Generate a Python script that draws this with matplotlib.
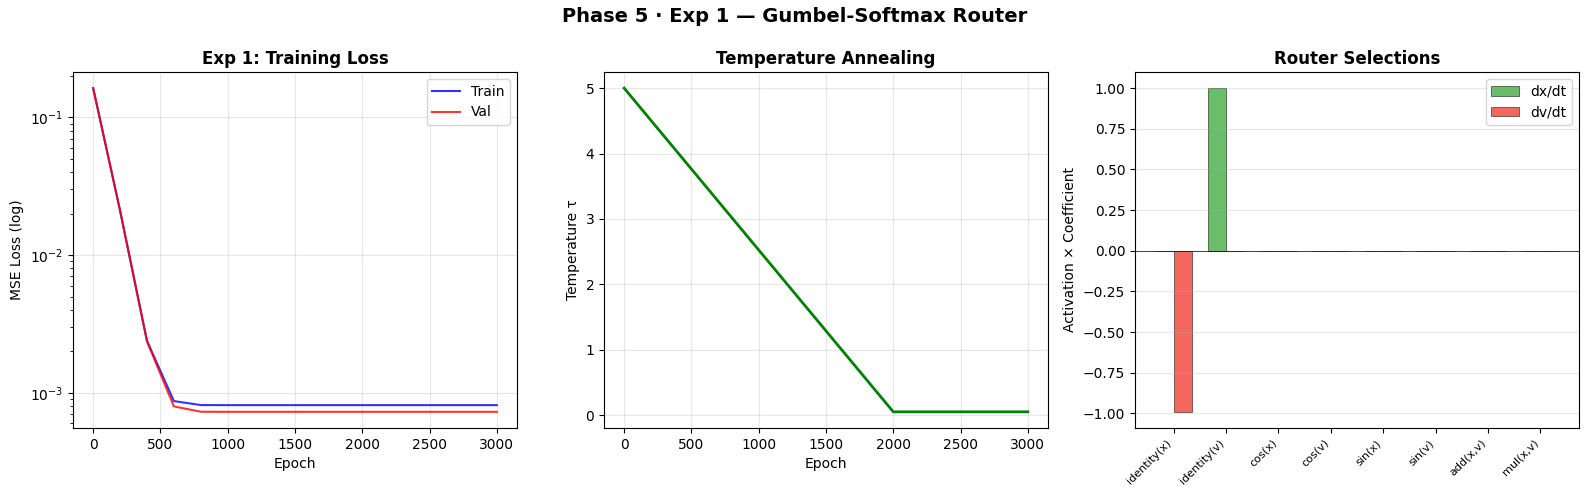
import numpy as np
import matplotlib
matplotlib.use("Agg")
import matplotlib.pyplot as plt

# training loss, logged every 200 epochs
epochs = [0, 200, 400, 600, 800, 1000, 1200, 1400, 1600, 1800, 2000,
          2200, 2400, 2600, 2800, 3000]
train_loss = [0.163, 0.021, 0.00238, 0.00087, 0.000814, 0.000813, 0.000813,
              0.000813, 0.000813, 0.000813, 0.000813, 0.000813, 0.000813,
              0.000813, 0.000813, 0.000813]
val_loss = [0.163, 0.021, 0.00236, 0.000796, 0.000728, 0.000727, 0.000727,
            0.000727, 0.000727, 0.000727, 0.000727, 0.000727, 0.000727,
            0.000727, 0.000727, 0.000727]

# temperature schedule
tau_epochs = [0, 2000, 3000]
tau = [5.0, 0.05, 0.05]

# router selections
ops = ["identity(x)", "identity(v)", "cos(x)", "cos(v)", "sin(x)", "sin(v)",
       "add(x,v)", "mul(x,v)"]
dx_dt = [0.0, 1.0, 0.0, 0.0, 0.0, 0.0, 0.0, 0.0]
dv_dt = [-0.99, 0.0, 0.0, 0.0, 0.0, 0.0, 0.0, 0.0]

fig = plt.figure(figsize=(15.89, 4.95), dpi=100)
W, H = 1589, 495
axes = []
for i in range(3):
    left = 73 + i * 531
    axes.append(fig.add_axes([left / W, 1 - 428 / H, 444 / W, 356 / H]))
ax1, ax2, ax3 = axes

fig.suptitle("Phase 5 · Exp 1 — Gumbel-Softmax Router", fontsize=14,
             fontweight="bold", y=0.985)

# loss
ax1.plot(epochs, train_loss, color="blue", alpha=0.8, label="Train")
ax1.plot(epochs, val_loss, color="red", alpha=0.8, label="Val")
ax1.set_yscale("log")
ax1.set_xlabel("Epoch")
ax1.set_ylabel("MSE Loss (log)")
ax1.set_title("Exp 1: Training Loss", fontweight="bold")
ax1.legend()
ax1.grid(True, alpha=0.3)

# temperature
ax2.plot(tau_epochs, tau, color="green", linewidth=2)
ax2.set_xlabel("Epoch")
ax2.set_ylabel("Temperature τ")
ax2.set_title("Temperature Annealing", fontweight="bold")
ax2.grid(True, alpha=0.3)

# router
x = np.arange(len(ops))
w = 0.35
ax3.bar(x - w / 2, dx_dt, w, color="#2ca02c", alpha=0.7, edgecolor="black",
        linewidth=0.5, label="dx/dt")
ax3.bar(x + w / 2, dv_dt, w, color="#f0261b", alpha=0.7, edgecolor="black",
        linewidth=0.5, label="dv/dt")
ax3.axhline(0, color="black", linewidth=0.5)
ax3.set_xticks(x)
ax3.set_xticklabels(ops, rotation=45, ha="right", fontsize=8)
ax3.set_ylabel("Activation × Coefficient")
ax3.set_title("Router Selections", fontweight="bold")
ax3.legend()
ax3.grid(True, axis="y", alpha=0.3)

fig.savefig("out.png", dpi=100)
